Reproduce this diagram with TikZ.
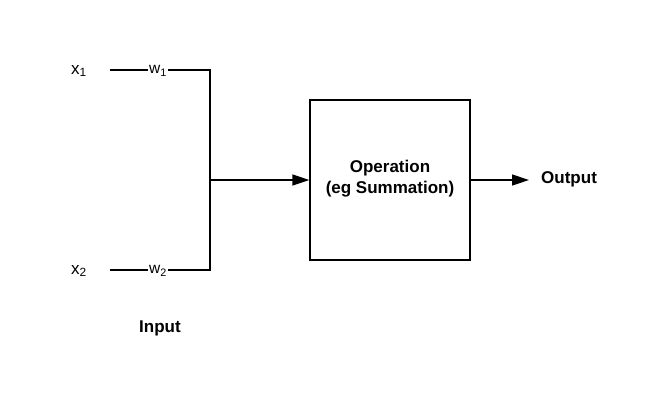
\documentclass[tikz,border=0pt]{standalone}
\usepackage{fontspec}
\setmainfont{Liberation Sans}
\usetikzlibrary{arrows.meta}
\begin{document}
\begin{tikzpicture}[x=1pt,y=-1pt,
  wire/.style={line width=1.4pt},
  arr/.style={wire,-{Triangle[length=17pt,width=11pt]}},
  lbl/.style={inner sep=0pt,font=\fontsize{17}{19}\selectfont},
  wlbl/.style={inner sep=1pt,fill=white,font=\fontsize{15.5}{17}\selectfont},
  bold/.style={inner sep=0pt,font=\fontsize{17}{21}\selectfont\bfseries,align=center},
  opbox/.style={draw,line width=1.4pt,minimum width=160pt,minimum height=160pt,inner sep=0pt}]
\useasboundingbox (0,0) rectangle (650,400);
\node[lbl] (x1) at (79,71) {x$_{\mathrm{1}}$};
\node[lbl] (x2) at (79,271) {x$_{\mathrm{2}}$};
\coordinate (s1) at (110,70);
\coordinate (s2) at (110,270);
\coordinate (c1) at (210,70);
\coordinate (c2) at (210,270);
\coordinate (j) at (210,180);
\draw[wire] (s1) -- (c1) -- (c2) -- (s2);
\node[wlbl] (w1) at (158,71) {w$_{\mathrm{1}}$};
\node[wlbl] (w2) at (158,271) {w$_{\mathrm{2}}$};
\node[opbox] (op) at (390,180) {};
\node[bold] (optext) at (390,179) {Operation\\(eg Summation)};
\draw[arr] (j) -- (op.west);
\coordinate (oend) at (529,180);
\draw[arr] (op.east) -- (oend);
\node[bold,anchor=west] (out) at (541,179) {Output};
\node[bold] (in) at (160,328) {Input};
\end{tikzpicture}
\end{document}
